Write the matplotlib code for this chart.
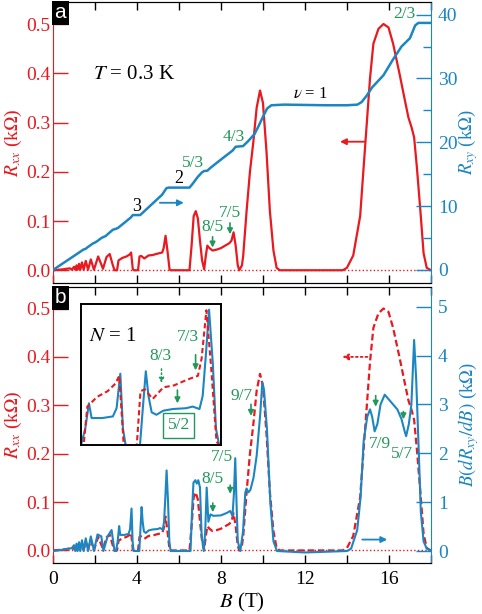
import numpy as np
import matplotlib.pyplot as plt
from matplotlib.ticker import MultipleLocator, FormatStrFormatter

plt.rcParams['font.family'] = ['Liberation Serif', 'DejaVu Serif']
plt.rcParams['mathtext.fontset'] = 'stix'

RED = '#e8191f'
BLUE = '#1b86c2'
GREEN = '#21985a'

# longitudinal resistance R_xx (kOhm) vs B (T)
rxx_pts = [
    (0, 0), (0.5, 0.002), (0.8, 0.004), (0.9, 0.001), (1.0, 0.007), (1.06, 0.001),
    (1.12, 0.01), (1.17, 0.001), (1.24, 0.013), (1.3, 0.001), (1.38, 0.016),
    (1.46, 0.001), (1.56, 0.019), (1.67, 0.001), (1.8, 0.022), (1.95, 0.001),
    (2.15, 0.028), (2.38, 0.003), (2.55, 0.027), (2.7, 0.033), (2.85, 0.01),
    (2.93, 0.0), (3.05, 0.0), (3.12, 0.02), (3.3, 0.025), (3.5, 0.028),
    (3.65, 0.032), (3.72, 0.036), (3.8, 0.002), (3.85, 0.0), (4.05, 0.0),
    (4.12, 0.028), (4.2, 0.029), (4.35, 0.024), (4.55, 0.03), (4.75, 0.031),
    (5.0, 0.034), (5.2, 0.036), (5.27, 0.045), (5.36, 0.07), (5.45, 0.04),
    (5.55, 0.002), (5.6, 0.0), (6.5, 0.0), (6.6, 0.05), (6.7, 0.11), (6.8, 0.12),
    (6.9, 0.105), (7.0, 0.06), (7.1, 0.02), (7.2, 0.002), (7.28, 0.03),
    (7.35, 0.05), (7.45, 0.045), (7.6, 0.04), (7.8, 0.042), (8.0, 0.045),
    (8.2, 0.05), (8.4, 0.055), (8.5, 0.06), (8.6, 0.077), (8.7, 0.05),
    (8.8, 0.01), (8.87, 0.0), (9.0, 0.01), (9.06, 0.03), (9.22, 0.12),
    (9.38, 0.2), (9.54, 0.26), (9.7, 0.33), (9.86, 0.365), (10.0, 0.34),
    (10.17, 0.24), (10.33, 0.12), (10.5, 0.04), (10.65, 0.005), (10.8, 0.0),
    (13.8, 0.0), (14.0, 0.005), (14.3, 0.03), (14.63, 0.11), (14.78, 0.2),
    (14.94, 0.295), (15.1, 0.39), (15.26, 0.46), (15.5, 0.49), (15.74, 0.5),
    (15.98, 0.493), (16.2, 0.46), (16.5, 0.4), (16.77, 0.343), (16.93, 0.31),
    (17.08, 0.29), (17.2, 0.27), (17.33, 0.21), (17.5, 0.12), (17.65, 0.035),
    (17.8, 0.005), (18.0, 0.0),
]

# Hall resistance R_xy (kOhm) vs B (T)
rxy_pts = [
    (0, 0), (0.5, 1.1), (1.0, 2.2), (1.45, 3.2), (1.55, 3.3), (1.62, 3.5),
    (1.9, 4.15), (2.0, 4.3), (2.1, 4.5), (2.3, 5.0), (2.4, 5.16), (2.5, 5.3),
    (2.85, 6.3), (3.0, 6.45), (3.1, 6.6), (3.7, 8.2), (3.8, 8.6), (4.15, 8.6),
    (4.25, 8.9), (5.2, 11.8), (5.4, 12.8), (5.5, 12.9), (6.5, 12.9), (6.65, 13.5),
    (6.9, 14.6), (7.1, 15.3), (7.2, 15.5), (7.35, 15.55), (7.5, 16.0),
    (8.0, 17.3), (8.55, 18.7), (8.7, 19.3), (9.05, 19.4), (9.3, 20.2),
    (9.6, 21.3), (9.8, 22.6), (10.0, 24.0), (10.2, 25.3), (10.4, 25.8),
    (11, 25.9), (12, 25.85), (13, 25.8), (14, 25.8), (14.5, 25.9), (14.7, 26.3),
    (14.94, 27.3), (15.2, 28.6), (15.74, 30.5), (16.2, 33.0), (16.6, 35.0),
    (17.0, 36.3), (17.25, 38.3), (17.4, 38.7), (18, 38.7),
]

# B dR_xy/dB (kOhm) vs B (T)
deriv_pts = [
    (0, 0.0), (0.5, 0.03), (0.9, 0.06), (1.0, 0.12), (1.06, 0.0), (1.12, 0.15),
    (1.17, 0.0), (1.24, 0.18), (1.3, 0.0), (1.38, 0.22), (1.46, 0.0),
    (1.56, 0.26), (1.67, 0.0), (1.8, 0.3), (1.95, 0.0), (2.12, 0.34), (2.3, 0.3),
    (2.4, 0.0), (2.6, 0.3), (2.79, 0.43), (2.93, 0.0), (3.0, 0.0), (3.08, 0.2),
    (3.15, 0.51), (3.2, 0.33), (3.4, 0.33), (3.6, 0.35), (3.67, 0.45),
    (3.74, 0.87), (3.79, 0.2), (3.84, 0.0), (4.11, 0.0), (4.17, 0.5),
    (4.22, 0.9), (4.27, 0.6), (4.33, 0.4), (4.42, 0.37), (4.55, 0.42),
    (4.73, 0.44), (4.98, 0.45), (5.1, 0.47), (5.23, 0.44), (5.29, 0.6),
    (5.35, 1.1), (5.41, 1.65), (5.48, 1.0), (5.54, 0.2), (5.6, 0.0),
    (6.55, 0.0), (6.62, 0.8), (6.69, 1.4), (6.78, 1.45), (6.85, 1.38),
    (6.92, 1.45), (7.0, 1.3), (7.08, 0.3), (7.18, 0.0), (7.25, 0.4),
    (7.32, 1.3), (7.4, 0.6), (7.5, 0.75), (7.64, 0.72), (8.0, 0.73),
    (8.28, 0.78), (8.44, 0.82), (8.55, 0.72), (8.62, 1.2), (8.68, 1.9),
    (8.74, 1.0), (8.8, 0.2), (8.92, 0.0), (9.05, 0.4), (9.16, 1.2),
    (9.22, 1.28), (9.3, 1.2), (9.4, 1.25), (9.55, 1.5), (9.7, 1.95),
    (9.87, 2.8), (9.97, 3.45), (10.05, 3.3), (10.19, 2.5), (10.35, 1.0),
    (10.5, 0.2), (10.67, 0.0), (12.0, -0.03), (14.0, 0.0), (14.2, 0.05),
    (14.49, 0.43), (14.65, 1.1), (14.8, 2.27), (14.97, 2.75), (15.1, 2.9),
    (15.2, 2.75), (15.32, 2.45), (15.45, 2.6), (15.6, 3.0), (15.8, 3.2),
    (16.0, 3.1), (16.2, 3.0), (16.4, 2.9), (16.6, 2.7), (16.75, 2.45),
    (16.82, 2.35), (16.95, 2.6), (17.07, 3.0), (17.2, 4.32), (17.3, 3.5),
    (17.4, 2.3), (17.52, 0.8), (17.65, 0.2), (17.8, 0.05), (18.0, 0.0),
]

B_xx, R_xx = np.array(rxx_pts).T
B_xy, R_xy = np.array(rxy_pts).T
B_d, D_d = np.array(deriv_pts).T

fig = plt.figure(figsize=(4.82, 6.14), dpi=100)
axa = fig.add_axes([0.110, 0.539, 0.784, 0.458])
axb = fig.add_axes([0.110, 0.083, 0.784, 0.450])
axa2 = axa.twinx()
axb2 = axb.twinx()


def style(ax, ax2, rlim, rmaj, rmin):
    ax.set_xlim(0, 18)
    ax.xaxis.set_major_locator(MultipleLocator(4))
    ax.xaxis.set_minor_locator(MultipleLocator(2))
    ax.tick_params(axis='x', which='both', direction='in', top=True,
                   length=6, width=1, labelsize=14, pad=6)
    ax.set_ylim(-0.026, 0.545)
    ax.yaxis.set_major_locator(MultipleLocator(0.1))
    ax.yaxis.set_major_formatter(FormatStrFormatter('%.1f'))
    ax.tick_params(axis='y', direction='in', colors=RED, length=11,
                   width=1, labelsize=14, pad=2)
    ax.spines['left'].set_color(RED)
    ax.spines['right'].set_visible(False)
    ax2.set_ylim(*rlim)
    ax2.yaxis.set_major_locator(MultipleLocator(rmaj))
    if rmin:
        ax2.yaxis.set_minor_locator(MultipleLocator(rmin))
    ax2.tick_params(axis='y', which='major', direction='in', colors=BLUE,
                    length=11, width=1, labelsize=14, pad=5)
    ax2.tick_params(axis='y', which='minor', direction='in', colors=BLUE,
                    length=6, width=1)
    ax2.spines['right'].set_color(BLUE)
    ax2.spines['left'].set_visible(False)
    ax.axhline(0, color=RED, ls=':', lw=1)
    ax.yaxis.set_label_coords(-0.078, 0.5)
    ax2.yaxis.set_label_coords(1.066, 0.5)


style(axa, axa2, (-2.05, 42.0), 10, 5)
style(axb, axb2, (-0.246, 5.41), 1, None)
axa.tick_params(axis='x', labelbottom=False)

# panel a
axa.plot(B_xx, R_xx, color=RED, lw=1.6)
axa2.plot(B_xy, R_xy, color=BLUE, lw=1.8)
axa.set_ylabel(r'$R_{xx}$ (k$\Omega$)', color=RED, fontsize=14)
axa2.set_ylabel(r'$R_{xy}$ (k$\Omega$)', color=BLUE, fontsize=13.5)

# panel b
axb.plot(B_xx, R_xx, color=RED, lw=1.6, ls=(0, (3, 1.5)))
axb2.plot(B_d, D_d, color=BLUE, lw=1.5)
axb.set_ylabel(r'$R_{xx}$ (k$\Omega$)', color=RED, fontsize=14)
axb2.set_ylabel(r'$B(dR_{xy}/dB)$ (k$\Omega$)', color=BLUE, fontsize=13.5)
axb.set_xlabel(r'$B$ (T)', fontsize=15, labelpad=2)

for ax, lab in ((axa, 'a'), (axb, 'b')):
    ax.text(0.004, 0.995, lab, transform=ax.transAxes, ha='left', va='top',
            color='white', fontsize=15, family='Liberation Sans', zorder=10,
            bbox=dict(facecolor='black', edgecolor='none',
                      boxstyle='square,pad=0.12'))

garrow = dict(arrowstyle='-|>', color=GREEN, lw=1.2, mutation_scale=8,
              shrinkA=0, shrinkB=0)

axa.text(1.9, 0.397, r'$T$ = 0.3 K', fontsize=15, va='center', ha='left')
axa.text(12.24, 0.357, r'$\nu$ = 1', fontsize=12, ha='center', va='center')
axa.text(3.97, 0.13, '3', fontsize=13, ha='center', va='center')
axa.text(6.0, 0.186, '2', fontsize=13, ha='center', va='center')
for s, x, y in (('5/3', 6.68, 0.217), ('4/3', 8.63, 0.271), ('2/3', 16.72, 0.52),
                ('7/5', 8.43, 0.117), ('8/5', 7.6, 0.087)):
    axa.text(x, y, s, color=GREEN, fontsize=12.5, ha='center', va='center')
axa.annotate('', xy=(7.6, 0.046), xytext=(7.6, 0.068), arrowprops=garrow)
axa.annotate('', xy=(8.43, 0.073), xytext=(8.43, 0.096), arrowprops=garrow)
axa.annotate('', xy=(6.23, 0.137), xytext=(5.09, 0.137),
             arrowprops=dict(arrowstyle='-|>', color=BLUE, lw=1.3,
                             mutation_scale=9, shrinkA=0, shrinkB=0))
axa.annotate('', xy=(13.67, 0.261), xytext=(14.86, 0.261),
             arrowprops=dict(arrowstyle='-|>', color=RED, lw=1.3,
                             mutation_scale=9, shrinkA=0, shrinkB=0))

for s, x, y in (('9/7', 9.0, 0.319), ('7/5', 8.04, 0.193), ('8/5', 7.61, 0.147),
                ('7/9', 15.56, 0.22), ('5/7', 16.6, 0.2)):
    axb.text(x, y, s, color=GREEN, fontsize=12.5, ha='center', va='center')
for x, y0, y1 in ((9.43, 0.302, 0.278), (8.44, 0.135, 0.117),
                  (7.61, 0.098, 0.079), (15.37, 0.32, 0.297),
                  (16.69, 0.287, 0.271)):
    axb.annotate('', xy=(x, y1), xytext=(x, y0), arrowprops=garrow)
axb.annotate('', xy=(13.77, 0.4), xytext=(14.97, 0.4),
             arrowprops=dict(arrowstyle='-|>', color=RED, lw=1.3, ls=':',
                             mutation_scale=9, shrinkA=0, shrinkB=0))
axb.annotate('', xy=(15.92, 0.0225), xytext=(14.73, 0.0225),
             arrowprops=dict(arrowstyle='-|>', color=BLUE, lw=1.3,
                             mutation_scale=9, shrinkA=0, shrinkB=0))

# inset, N = 1 Landau level
ins = fig.add_axes([0.168, 0.275, 0.290, 0.230])
ins2 = ins.twinx()
ins.plot(B_d, D_d, color=BLUE, lw=1.5)
ins2.plot(B_xx, R_xx, color=RED, lw=1.5, ls=(0, (2.5, 1.5)))
ins.set_xlim(3.0, 5.63)
ins.set_ylim(0, 1.72)
ins2.set_ylim(0, 0.0733)
for a in (ins, ins2):
    a.set_xticks([])
    a.set_yticks([])
    for sp in a.spines.values():
        sp.set_linewidth(1.2)
ins.text(0.23, 0.77, r'$N$ = 1', transform=ins.transAxes, fontsize=15,
         ha='center', va='center')
ins.text(0.767, 0.763, '7/3', transform=ins.transAxes, color=GREEN,
         fontsize=12.5, ha='center', va='center')
ins.text(0.57, 0.63, '8/3', transform=ins.transAxes, color=GREEN,
         fontsize=12.5, ha='center', va='center')
ins.text(0.70, 0.14, '5/2', transform=ins.transAxes, color=GREEN,
         fontsize=12.5, ha='center', va='center',
         bbox=dict(facecolor='white', edgecolor=GREEN, lw=1,
                   boxstyle='square,pad=0.25'))
ins.annotate('', xy=(0.576, 0.44), xytext=(0.576, 0.54), xycoords='axes fraction',
             arrowprops=dict(arrowstyle='-|>', color=GREEN, lw=1.1, ls=':',
                             mutation_scale=7, shrinkA=0, shrinkB=0))
ins.annotate('', xy=(0.82, 0.53), xytext=(0.82, 0.64), xycoords='axes fraction',
             arrowprops=garrow)
ins.annotate('', xy=(0.69, 0.296), xytext=(0.69, 0.39), xycoords='axes fraction',
             arrowprops=garrow)

fig.savefig('out.png', dpi=100)
